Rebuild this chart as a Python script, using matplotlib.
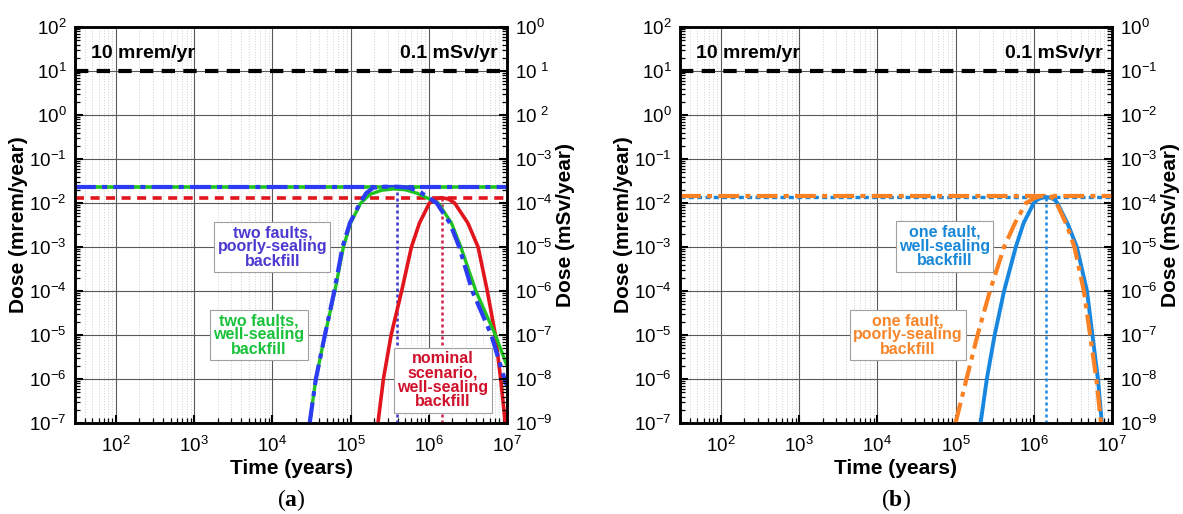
import numpy as np
import matplotlib
matplotlib.use("Agg")
import matplotlib.pyplot as plt
from matplotlib.ticker import LogLocator, NullFormatter, FixedLocator, FixedFormatter

plt.rcParams['font.family'] = ['Liberation Sans', 'DejaVu Sans']
plt.rcParams['mathtext.fontset'] = 'custom'
plt.rcParams['mathtext.rm'] = 'Liberation Serif'
plt.rcParams['mathtext.bf'] = 'Liberation Serif:bold'

# limits (mrem/yr) and peak levels
LIMIT_MREM = 10.0

# (a) two faults, poorly-sealing backfill
A_POOR_T = [3.0e4, 3.6e4, 4.7e4, 6.2e4, 7.9e4, 9.8e4, 1.32e5, 1.58e5, 1.95e5, 2.8e5,
            3.9e5, 5.6e5, 7.9e5, 1.26e6, 1.86e6, 2.45e6, 3.6e6, 6.3e6, 9.3e6, 1.0e7]
A_POOR_D = [1e-7, 1e-6, 1e-5, 1e-4, 1e-3, 3.5e-3, 1e-2, 1.66e-2, 2.24e-2, 2.34e-2,
            2.34e-2, 2.24e-2, 1.74e-2, 1e-2, 3.5e-3, 1e-3, 1e-4, 1e-5, 1e-6, 7e-7]
A_POOR_PEAK = (3.9e5, 2.34e-2)

# (a) two faults, well-sealing backfill
A_WELL_T = [3.0e4, 3.6e4, 4.7e4, 6.3e4, 8.1e4, 1.0e5, 1.35e5, 1.78e5, 2.5e5, 3.55e5,
            5.0e5, 7.1e5, 1.32e6, 1.95e6, 2.57e6, 4.0e6, 7.1e6, 1.0e7]
A_WELL_D = [1e-7, 1e-6, 1e-5, 1e-4, 1e-3, 3.5e-3, 1e-2, 1.58e-2, 1.95e-2, 2.09e-2,
            2.0e-2, 1.66e-2, 1e-2, 3.5e-3, 1e-3, 1e-4, 1e-5, 2e-6]

# (a) nominal scenario, well-sealing backfill
A_NOM_T = [2.24e5, 2.63e5, 3.3e5, 4.5e5, 6.0e5, 7.6e5, 1.02e6, 1.23e6, 1.48e6, 1.78e6,
           2.14e6, 3.16e6, 4.27e6, 5.6e6, 7.1e6, 8.3e6, 9.5e6]
A_NOM_D = [1e-7, 1e-6, 1e-5, 1e-4, 1e-3, 3.5e-3, 1e-2, 1.23e-2, 1.32e-2, 1.23e-2,
           1e-2, 3.5e-3, 1e-3, 1e-4, 1e-5, 1e-6, 1e-7]
A_NOM_PEAK = (1.48e6, 1.32e-2)

# (b) one fault, well-sealing backfill
B_WELL_T = [2.09e5, 2.51e5, 3.16e5, 4.17e5, 5.89e5, 7.41e5, 1.0e6, 1.12e6, 1.26e6, 1.45e6,
            1.66e6, 1.86e6, 2.0e6, 2.75e6, 3.55e6, 4.79e6, 5.62e6, 6.61e6, 7.41e6]
B_WELL_D = [1e-7, 1e-6, 1e-5, 1e-4, 1e-3, 3.5e-3, 1e-2, 1.2e-2, 1.31e-2, 1.36e-2,
            1.31e-2, 1.18e-2, 1e-2, 3.2e-3, 1e-3, 1e-4, 1e-5, 1e-6, 1e-7]
B_WELL_PEAK = (1.45e6, 1.36e-2)

# (b) one fault, poorly-sealing backfill
B_POOR_T = [1.0e5, 1.38e5, 1.91e5, 2.75e5, 4.17e5, 5.75e5, 7.94e5, 1.05e6, 1.22e6, 1.41e6,
            1.58e6, 1.70e6, 1.95e6, 2.63e6, 3.31e6, 4.37e6, 5.25e6, 6.31e6, 7.24e6]
B_POOR_D = [1e-7, 1e-6, 1e-5, 1e-4, 1e-3, 3.5e-3, 1e-2, 1.32e-2, 1.43e-2, 1.48e-2,
            1.43e-2, 1.35e-2, 1e-2, 3.2e-3, 1e-3, 1e-4, 1e-5, 1e-6, 1e-7]
B_POOR_PEAK = 1.48e-2

# right axis (mSv/yr) tick labels
MSV_TICKS = [1e0, 1e-1, 1e-2, 1e-3, 1e-4, 1e-5, 1e-6, 1e-7, 1e-8, 1e-9]
MSV_EXP_A = ['0', r'\ 1', r'\ 2', '-3', '-4', '-5', '-6', '-7', '-8', '-9']
MSV_EXP_B = ['0', '-1', '-2', '-3', '-4', '-5', '-6', '-7', '-8', '-9']

BLUE = '#2b3cf2'
GREEN = '#1fc41f'
RED = '#e2141c'
LBLUE = '#1787e0'
ORANGE = '#fb8224'


def setup_axes(ax, msv_exps):
    ax.set_xscale('log')
    ax.set_yscale('log')
    ax.set_xlim(30, 1e7)
    ax.set_ylim(1e-7, 1e2)
    ax.xaxis.set_major_locator(LogLocator(base=10, numticks=20))
    ax.xaxis.set_minor_locator(LogLocator(base=10, subs=np.arange(2, 10), numticks=20))
    ax.xaxis.set_minor_formatter(NullFormatter())
    ax.yaxis.set_major_locator(LogLocator(base=10, numticks=20))
    ax.yaxis.set_minor_locator(LogLocator(base=10, subs=np.arange(2, 10), numticks=20))
    ax.yaxis.set_minor_formatter(NullFormatter())
    ax.grid(which='major', axis='both', color='#5a5a5a', lw=0.8)
    ax.grid(which='minor', axis='x', color='#bdbdbd', lw=0.6, ls=(0, (1.0, 2.2)))
    ax.set_axisbelow(True)
    ax.tick_params(which='both', direction='in', top=False, right=False)
    ax.tick_params(which='major', length=6, width=1.5, labelsize=13.5, pad=6)
    ax.tick_params(axis='x', which='major', pad=9)
    ax.tick_params(which='minor', length=3.5, width=0.9)
    for s in ax.spines.values():
        s.set_linewidth(1.8)

    ax2 = ax.twinx()
    ax2.set_yscale('log')
    ax2.set_ylim(1e-9, 1e0)
    ax2.yaxis.set_major_locator(FixedLocator(MSV_TICKS))
    ax2.yaxis.set_major_formatter(FixedFormatter(
        [r'$\mathdefault{10^{%s}}$' % e for e in msv_exps]))
    ax2.yaxis.set_minor_locator(LogLocator(base=10, subs=np.arange(2, 10), numticks=20))
    ax2.yaxis.set_minor_formatter(NullFormatter())
    ax2.tick_params(which='both', direction='in')
    ax2.tick_params(which='major', length=6, width=1.5, labelsize=13.5, pad=6)
    ax2.tick_params(which='minor', length=3.5, width=0.9)
    for s in ax2.spines.values():
        s.set_linewidth(1.8)

    ax.set_xlabel('Time (years)', fontsize=15, fontweight='bold')
    ax.xaxis.set_label_coords(0.5, -0.09)
    ax.set_ylabel('Dose (mrem/year)', fontsize=15, fontweight='bold')
    ax.yaxis.set_label_coords(-0.109, 0.5)
    ax2.set_ylabel('Dose (mSv/year)', fontsize=15, fontweight='bold')
    ax2.yaxis.set_label_coords(1.113, 0.5)

    # regulatory limit
    ax.axhline(LIMIT_MREM, color='black', lw=3.0, ls=(0, (3.2, 2.0)), zorder=3)
    ax.text(0.037, 0.934, '10 mrem/yr', transform=ax.transAxes, fontsize=14,
            fontweight='bold', ha='left', va='center')
    ax.text(0.979, 0.934, '0.1 mSv/yr', transform=ax.transAxes, fontsize=14,
            fontweight='bold', ha='right', va='center')
    return ax2


def label_box(ax, x, y, text, color):
    ax.text(x, y, text, color=color, fontsize=11.5, fontweight='bold', ha='center',
            va='center', linespacing=0.95, zorder=6,
            bbox=dict(boxstyle='square,pad=0.2', fc='white', ec='#a0a0a0', lw=0.8))


def plot_panel_a(ax):
    # peak levels
    ax.axhline(A_POOR_PEAK[1], color=GREEN, lw=2.6, zorder=3)
    ax.axhline(A_POOR_PEAK[1], color=BLUE, lw=3.0, ls=(0, (5, 1.5, 1.2, 1.5)), zorder=3)
    ax.axhline(A_NOM_PEAK[1], color=RED, lw=2.6, ls=(0, (2.5, 1.8)), zorder=3)
    ax.vlines(A_POOR_PEAK[0], 1e-7, A_POOR_PEAK[1], color='#3b35cc', lw=1.8,
              ls=(0, (1.2, 1.2)), zorder=3)
    ax.vlines(A_NOM_PEAK[0], 1e-7, A_NOM_PEAK[1], color='#d0204a', lw=1.8,
              ls=(0, (1.2, 1.2)), zorder=3)

    ax.plot(A_NOM_T, A_NOM_D, color=RED, lw=2.6, zorder=4)
    ax.plot(A_WELL_T, A_WELL_D, color=GREEN, lw=2.4, zorder=4)
    ax.plot(A_POOR_T, A_POOR_D, color=BLUE, lw=3.0, ls=(0, (5, 1.5, 1.2, 1.5)), zorder=4)

    label_box(ax, 10**4.0, 10**-3.0, 'two faults,\npoorly-sealing\nbackfill', '#4a3ad0')
    label_box(ax, 10**3.83, 10**-5.0, 'two faults,\nwell-sealing\nbackfill', '#19c23a')
    label_box(ax, 10**6.18, 10**-6.03, 'nominal\nscenario,\nwell-sealing\nbackfill', '#d0112b')


def plot_panel_b(ax):
    ax.axhline(B_WELL_PEAK[1], color=LBLUE, lw=2.4, ls=(0, (1.5, 1.0)), zorder=3)
    ax.axhline(B_POOR_PEAK, color=ORANGE, lw=3.0, ls=(0, (5, 1.5, 1.2, 1.5)), zorder=3)
    ax.vlines(B_WELL_PEAK[0], 1e-7, B_WELL_PEAK[1], color=LBLUE, lw=1.8,
              ls=(0, (1.2, 1.2)), zorder=3)

    ax.plot(B_WELL_T, B_WELL_D, color=LBLUE, lw=2.8, zorder=4)
    ax.plot(B_POOR_T, B_POOR_D, color=ORANGE, lw=3.0, ls=(0, (5, 1.5, 1.2, 1.5)), zorder=4)

    label_box(ax, 10**4.86, 10**-2.99, 'one fault,\nwell-sealing\nbackfill', '#1a88d8')
    label_box(ax, 10**4.39, 10**-5.0, 'one fault,\npoorly-sealing\nbackfill', '#f7852a')


def main():
    fig = plt.figure(figsize=(11.83, 5.14), dpi=100)
    ax_a = fig.add_axes([75 / 1183, 91 / 514, 432 / 1183, 396 / 514])
    ax_b = fig.add_axes([680 / 1183, 91 / 514, 432 / 1183, 396 / 514])

    setup_axes(ax_a, MSV_EXP_A)
    setup_axes(ax_b, MSV_EXP_B)
    plot_panel_a(ax_a)
    plot_panel_b(ax_b)

    fig.text(291 / 1183, 1 - 500 / 514, r'$(\mathbf{a})$', ha='center', va='center', fontsize=17)
    fig.text(896 / 1183, 1 - 500 / 514, r'$(\mathbf{b})$', ha='center', va='center', fontsize=17)

    fig.savefig('out.png', dpi=100)


if __name__ == '__main__':
    main()
